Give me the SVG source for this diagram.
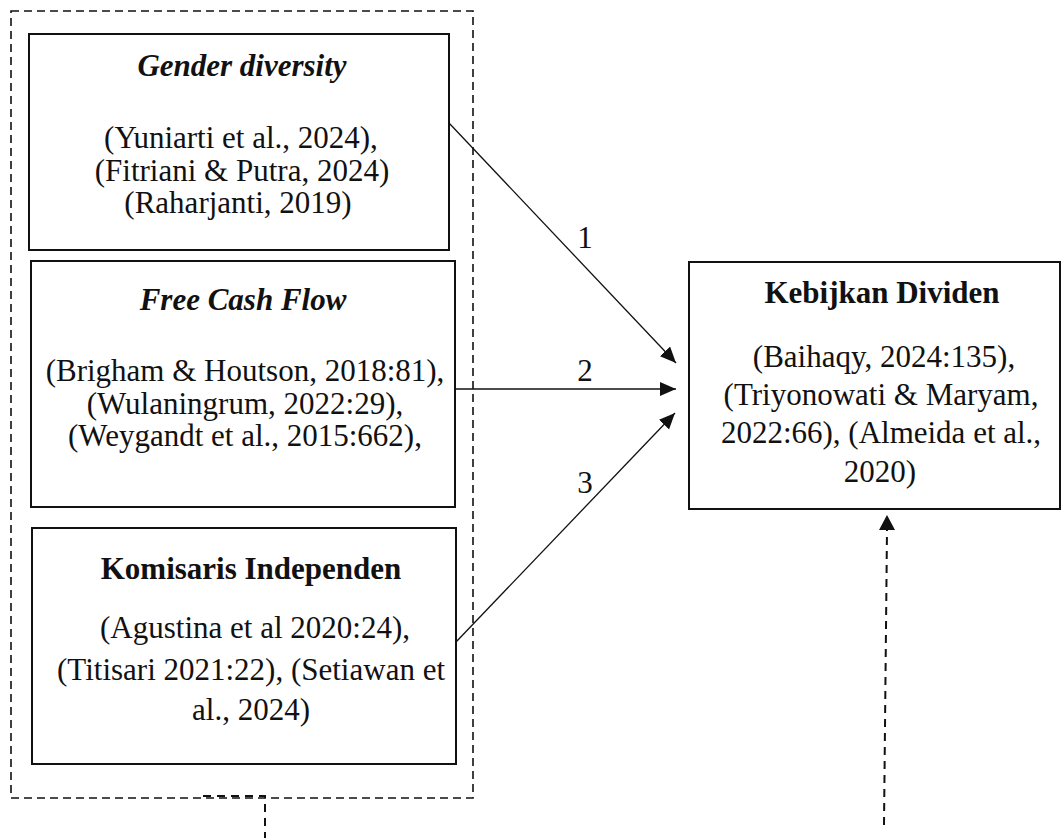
<svg xmlns="http://www.w3.org/2000/svg" width="1062" height="838" viewBox="0 0 1062 838">
<style>
.box{fill:#fff;stroke:#111;stroke-width:2}
.grp{fill:none;stroke:#111;stroke-width:1.6;stroke-dasharray:8 5}
.t{font-family:"Liberation Serif","Times New Roman",serif;font-size:31px;fill:#111;text-anchor:middle}
.b{font-weight:bold}
.bi{font-weight:bold;font-style:italic}
.con{fill:none;stroke:#111;stroke-width:1.3}
.dcon{fill:none;stroke:#111;stroke-width:2;stroke-dasharray:8 6}
</style>
<defs>
<marker id="ah" markerUnits="userSpaceOnUse" markerWidth="17" markerHeight="15" refX="16" refY="7" orient="auto">
<path d="M0,0 L16,7 L0,14 Z" fill="#111"/>
</marker>
</defs>
<rect width="1062" height="838" fill="#fff"/>
<g id="group-box">
<rect class="grp" x="11" y="11" width="462" height="787"/>
</g>
<g id="node-gender">
<rect class="box" x="29" y="34" width="420" height="216"/>
<text class="t bi" x="242" y="76">Gender diversity</text>
<text class="t" x="241" y="148">(Yuniarti et al., 2024),</text>
<text class="t" x="242" y="180.5">(Fitriani &amp; Putra, 2024)</text>
<text class="t" x="238" y="213">(Raharjanti, 2019)</text>
</g>
<g id="node-fcf">
<rect class="box" x="31" y="261" width="424" height="246"/>
<text class="t bi" x="243" y="310">Free Cash Flow</text>
<text class="t" x="245" y="381">(Brigham &amp; Houtson, 2018:81),</text>
<text class="t" x="245" y="413.5">(Wulaningrum, 2022:29),</text>
<text class="t" x="245" y="446">(Weygandt et al., 2015:662),</text>
</g>
<g id="node-komisaris">
<rect class="box" x="32" y="528" width="424" height="236"/>
<text class="t b" x="251" y="579">Komisaris Independen</text>
<text class="t" x="255" y="638">(Agustina et al 2020:24),</text>
<text class="t" x="251" y="680">(Titisari 2021:22), (Setiawan et</text>
<text class="t" x="251" y="720">al., 2024)</text>
</g>
<g id="node-dividen">
<rect class="box" x="689" y="262" width="371" height="247"/>
<text class="t b" x="882" y="303">Kebijkan Dividen</text>
<text class="t" x="884" y="367">(Baihaqy, 2024:135),</text>
<text class="t" x="881" y="405">(Triyonowati &amp; Maryam,</text>
<text class="t" x="881" y="443">2022:66), (Almeida et al.,</text>
<text class="t" x="880" y="482">2020)</text>
</g>
<g id="connectors">
<line class="con" x1="449" y1="123" x2="676" y2="363" marker-end="url(#ah)"/>
<line class="con" x1="455" y1="389" x2="676" y2="389" marker-end="url(#ah)"/>
<line class="con" x1="456" y1="642" x2="675" y2="413" marker-end="url(#ah)"/>
<path class="dcon" d="M203,796 L265,796 L265,840"/>
<line class="dcon" x1="884" y1="825" x2="887" y2="530"/>
<path d="M879,530 L887,515 L895,530 Z" fill="#111"/>
<text class="t" x="585" y="248">1</text>
<text class="t" x="585" y="381">2</text>
<text class="t" x="585" y="493">3</text>
</g>
</svg>
